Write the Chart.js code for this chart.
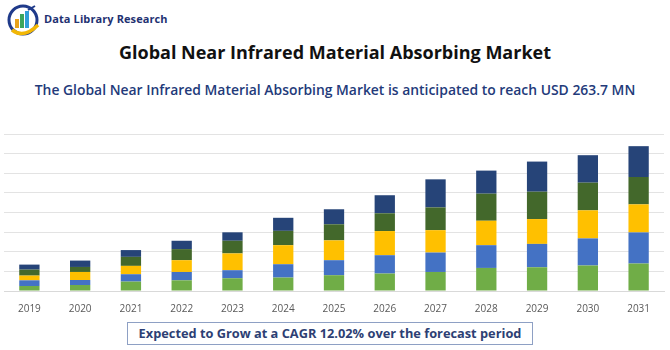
<!DOCTYPE html>
<html>
<head>
<meta charset="utf-8">
<script src="https://cdn.jsdelivr.net/npm/chart.js@4/dist/chart.umd.min.js"></script>
<style>
  html, body { margin: 0; padding: 0; background: #fff; }
  body { width: 670px; height: 350px; position: relative; overflow: hidden; font-family: "Open Sans", "Liberation Sans", sans-serif; }
  #logo { position: absolute; left: 6px; top: 3px; width: 36px; height: 34px; }
  #brand { position: absolute; left: 44px; top: 11px; font-size: 11px; font-weight: bold; color: #1F3272; letter-spacing: 0.1px; }
  #title { position: absolute; left: 0; width: 670px; top: 40px; text-align: center; font-size: 18px; font-weight: bold; color: #111; }
  #subtitle { position: absolute; left: 0; width: 670px; top: 80px; text-align: center; font-size: 13.9px; font-weight: 600; color: #233A7A; }
  #chartWrap { position: absolute; left: 0; top: 0; width: 670px; height: 350px; }
  #cagr { position: absolute; left: 127px; top: 322px; width: 404px; height: 21px; border: 1px solid #8EA0C4; text-align: center; font-size: 12.8px; font-weight: bold; color: #2D3F74; line-height: 21px; background: #fff; }
</style>
</head>
<body>
<svg id="logo" viewBox="0 0 36 34">
  <circle cx="17" cy="17" r="14" fill="none" stroke="#1F3A8A" stroke-width="3"/>
  <path d="M6 27 Q18 36 32 22" fill="none" stroke="#F2B705" stroke-width="3.5"/>
  <rect x="9" y="16" width="4" height="9" fill="#E8A21A"/>
  <rect x="14" y="11" width="4" height="14" fill="#3BA55C"/>
  <rect x="19" y="8" width="4" height="17" fill="#2F9ED8"/>
  <path d="M22 7 L29 3" stroke="#1F3A8A" stroke-width="2"/>
</svg>
<div id="brand">Data Library Research</div>
<div id="title">Global Near Infrared Material Absorbing Market</div>
<div id="subtitle">The Global Near Infrared Material Absorbing Market is anticipated to reach USD 263.7 MN</div>
<div id="chartWrap"><canvas id="c" width="670" height="350"></canvas></div>
<div id="cagr">Expected to Grow at a CAGR 12.02% over the forecast period</div>
<script>
const categories = ["2019","2020","2021","2022","2023","2024","2025","2026","2027","2028","2029","2030","2031"];
const seriesGreen   = [5.1, 6.1, 9.6, 10.9, 13.0, 13.7, 16.1, 17.8, 19.4, 23.5, 24.2, 26.0, 28.0];
const seriesBlue    = [5.8, 5.1, 7.5, 8.5, 8.2, 13.6, 15.3, 18.7, 19.8, 23.2, 23.8, 27.6, 31.7];
const seriesYellow  = [4.8, 8.2, 8.5, 12.0, 17.1, 19.4, 20.2, 24.6, 22.8, 24.9, 25.3, 28.6, 28.6];
const seriesDkGreen = [6.1, 5.1, 9.2, 11.3, 12.9, 14.6, 16.4, 18.1, 23.2, 27.6, 27.9, 28.2, 27.9];
const seriesNavy    = [5.1, 6.5, 6.9, 8.5, 8.6, 13.3, 15.3, 18.4, 28.6, 23.5, 30.7, 28.0, 31.4];
const yMax = 160;
const yStep = 20;

const mk = (label, data, color) => ({ label, data, backgroundColor: color, borderWidth: 0, barPercentage: 0.4, categoryPercentage: 1.0 });

new Chart(document.getElementById('c'), {
  type: 'bar',
  data: {
    labels: categories,
    datasets: [
      mk('S1', seriesGreen, '#70AD47'),
      mk('S2', seriesBlue, '#4472C4'),
      mk('S3', seriesYellow, '#FFC000'),
      mk('S4', seriesDkGreen, '#43682B'),
      mk('S5', seriesNavy, '#264478')
    ]
  },
  options: {
    responsive: false,
    animation: false,
    devicePixelRatio: 1,
    layout: { padding: { top: 134, left: 4, right: 6, bottom: 31 } },
    plugins: { legend: { display: false }, tooltip: { enabled: false }, title: { display: false } },
    scales: {
      x: {
        stacked: true,
        grid: { display: false },
        border: { display: true, color: '#D9D9D9' },
        ticks: { color: '#595959', font: { family: 'Open Sans', size: 10 }, padding: 4, maxRotation: 0 }
      },
      y: {
        stacked: true,
        min: 0, max: yMax,
        ticks: { display: false, stepSize: yStep },
        grid: { color: '#E3E3E3', drawTicks: false, lineWidth: 1 },
        border: { display: false }
      }
    }
  }
});
</script>
</body>
</html>
